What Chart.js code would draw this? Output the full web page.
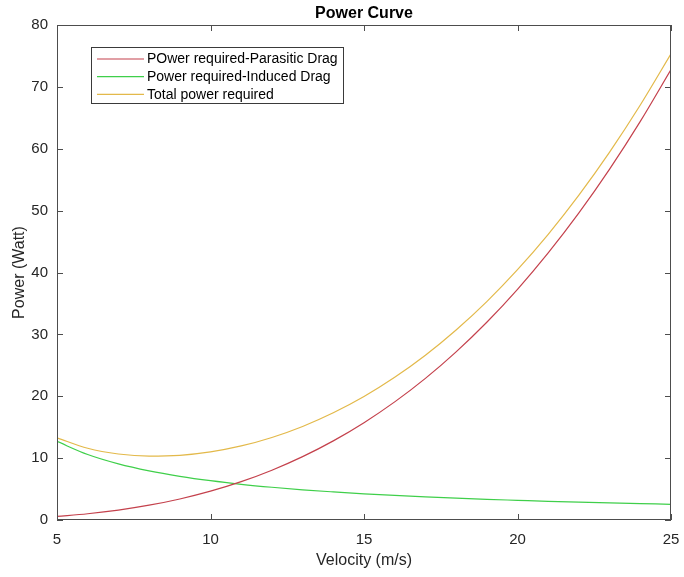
<!DOCTYPE html>
<html>
<head>
<meta charset="utf-8">
<script src="https://cdn.jsdelivr.net/npm/chart.js@4.4.1/dist/chart.umd.min.js"></script>
<style>
  html, body { margin: 0; padding: 0; background: #ffffff; }
  #wrap { width: 684px; height: 577px; position: relative; }
</style>
</head>
<body>
<div id="wrap"><canvas id="powerChart" width="684" height="577"></canvas></div>
<script>
// Velocity samples (m/s)
const velocity = [5, 6, 7, 8, 9, 10, 11, 12, 13, 14, 15, 16, 17, 18, 19, 20, 21, 22, 23, 24, 25];

// Power needed to overcome parasitic drag (W)
const parasiticPower = [0.58, 1.01, 1.60, 2.39, 3.40, 4.66, 6.20, 8.05, 10.24, 12.79, 15.73,
  19.09, 22.89, 27.18, 31.96, 37.28, 43.16, 49.62, 56.70, 64.42, 72.8];

// Power needed to overcome induced drag (W)
const inducedPower = [12.7, 10.58, 9.07, 7.94, 7.06, 6.35, 5.77, 5.29, 4.88, 4.54, 4.23,
  3.97, 3.74, 3.53, 3.34, 3.18, 3.02, 2.89, 2.76, 2.65, 2.54];

// Total power required (W)
const totalPower = [13.28, 11.59, 10.67, 10.33, 10.46, 11.01, 11.97, 13.34, 15.12, 17.33, 19.96,
  23.06, 26.63, 30.71, 35.30, 40.46, 46.18, 52.51, 59.46, 67.07, 75.34];

const seriesNames = ['POwer required-Parasitic Drag', 'Power required-Induced Drag', 'Total power required'];
const seriesColors = ['#c4414c', '#3fcf4a', '#e3b94a'];

const xTicks = [5, 10, 15, 20, 25];
const yTicks = [0, 10, 20, 30, 40, 50, 60, 70, 80];

const FONT = '"Liberation Sans", Arial, Helvetica, sans-serif';
const AXIS_COLOR = '#4d4d4d';

function pairs(values) {
  return velocity.map((v, i) => ({ x: v, y: values[i] }));
}

// Box frame, inward ticks, title, axis titles and legend
const decorations = {
  id: 'decorations',
  afterDraw(chart) {
    const ctx = chart.ctx;
    const a = chart.chartArea;
    const xs = chart.scales.x, ys = chart.scales.y;
    ctx.save();
    ctx.strokeStyle = AXIS_COLOR;
    ctx.lineWidth = 1;
    ctx.strokeRect(Math.round(a.left) + 0.5, Math.round(a.top) + 0.5,
      Math.round(a.right - a.left) - 1, Math.round(a.bottom - a.top) - 1);
    const tl = 6;
    ctx.beginPath();
    xTicks.forEach(t => {
      const px = Math.round(xs.getPixelForValue(t)) + 0.5;
      ctx.moveTo(px, a.bottom); ctx.lineTo(px, a.bottom - tl);
      ctx.moveTo(px, a.top); ctx.lineTo(px, a.top + tl);
    });
    yTicks.forEach(t => {
      const py = Math.round(ys.getPixelForValue(t)) + 0.5;
      ctx.moveTo(a.left, py); ctx.lineTo(a.left + tl, py);
      ctx.moveTo(a.right, py); ctx.lineTo(a.right - tl, py);
    });
    ctx.stroke();

    // Title
    ctx.fillStyle = '#000000';
    ctx.font = 'bold 16px ' + FONT;
    ctx.textAlign = 'center';
    ctx.textBaseline = 'middle';
    ctx.fillText('Power Curve', (a.left + a.right) / 2, 14);

    // Axis titles
    ctx.fillStyle = '#262626';
    ctx.font = '16px ' + FONT;
    ctx.fillText('Velocity (m/s)', (a.left + a.right) / 2, 561);
    ctx.save();
    ctx.translate(20, (a.top + a.bottom) / 2);
    ctx.rotate(-Math.PI / 2);
    ctx.fillText('Power (Watt)', 0, 0);
    ctx.restore();

    // Legend
    const lx = 91, ly = 47, lw = 252, lh = 56;
    ctx.fillStyle = '#ffffff';
    ctx.fillRect(lx, ly, lw, lh);
    ctx.strokeStyle = '#3a3a3a';
    ctx.strokeRect(lx + 0.5, ly + 0.5, lw, lh);
    ctx.font = '14px ' + FONT;
    ctx.textAlign = 'left';
    ctx.textBaseline = 'middle';
    seriesNames.forEach((name, i) => {
      const ry = 59 + i * 17.7;
      ctx.strokeStyle = seriesColors[i];
      ctx.lineWidth = 1.2;
      ctx.beginPath();
      ctx.moveTo(97, ry); ctx.lineTo(144, ry);
      ctx.stroke();
      ctx.fillStyle = '#000000';
      ctx.fillText(name, 147, ry + 0.5);
    });
    ctx.restore();
  }
};

new Chart(document.getElementById('powerChart'), {
  type: 'line',
  data: {
    datasets: [
      { label: seriesNames[0], data: pairs(parasiticPower), borderColor: seriesColors[0] },
      { label: seriesNames[1], data: pairs(inducedPower), borderColor: seriesColors[1] },
      { label: seriesNames[2], data: pairs(totalPower), borderColor: seriesColors[2] }
    ].map(d => Object.assign(d, {
      borderWidth: 1.2, pointRadius: 0, fill: false, cubicInterpolationMode: 'monotone'
    }))
  },
  options: {
    responsive: false,
    animation: false,
    events: [],
    layout: { padding: { top: 25, right: 13, left: 0, bottom: 0 } },
    plugins: { legend: { display: false }, title: { display: false }, tooltip: { enabled: false } },
    scales: {
      x: {
        type: 'linear', min: 5, max: 25,
        afterBuildTicks: s => { s.ticks = xTicks.map(v => ({ value: v })); },
        afterFit: s => { s.height = 57; s.paddingLeft = 0; s.paddingRight = 0; },
        grid: { display: false, drawTicks: false },
        border: { display: false },
        ticks: { color: '#262626', padding: 11, maxRotation: 0, font: { size: 15, family: FONT } }
      },
      y: {
        type: 'linear', min: 0, max: 80,
        afterBuildTicks: s => { s.ticks = yTicks.map(v => ({ value: v })); },
        afterFit: s => { s.width = 57; s.paddingTop = 0; s.paddingBottom = 0; },
        grid: { display: false, drawTicks: false },
        border: { display: false },
        ticks: { color: '#262626', padding: 9, font: { size: 15, family: FONT } }
      }
    }
  },
  plugins: [decorations]
});
</script>
</body>
</html>
